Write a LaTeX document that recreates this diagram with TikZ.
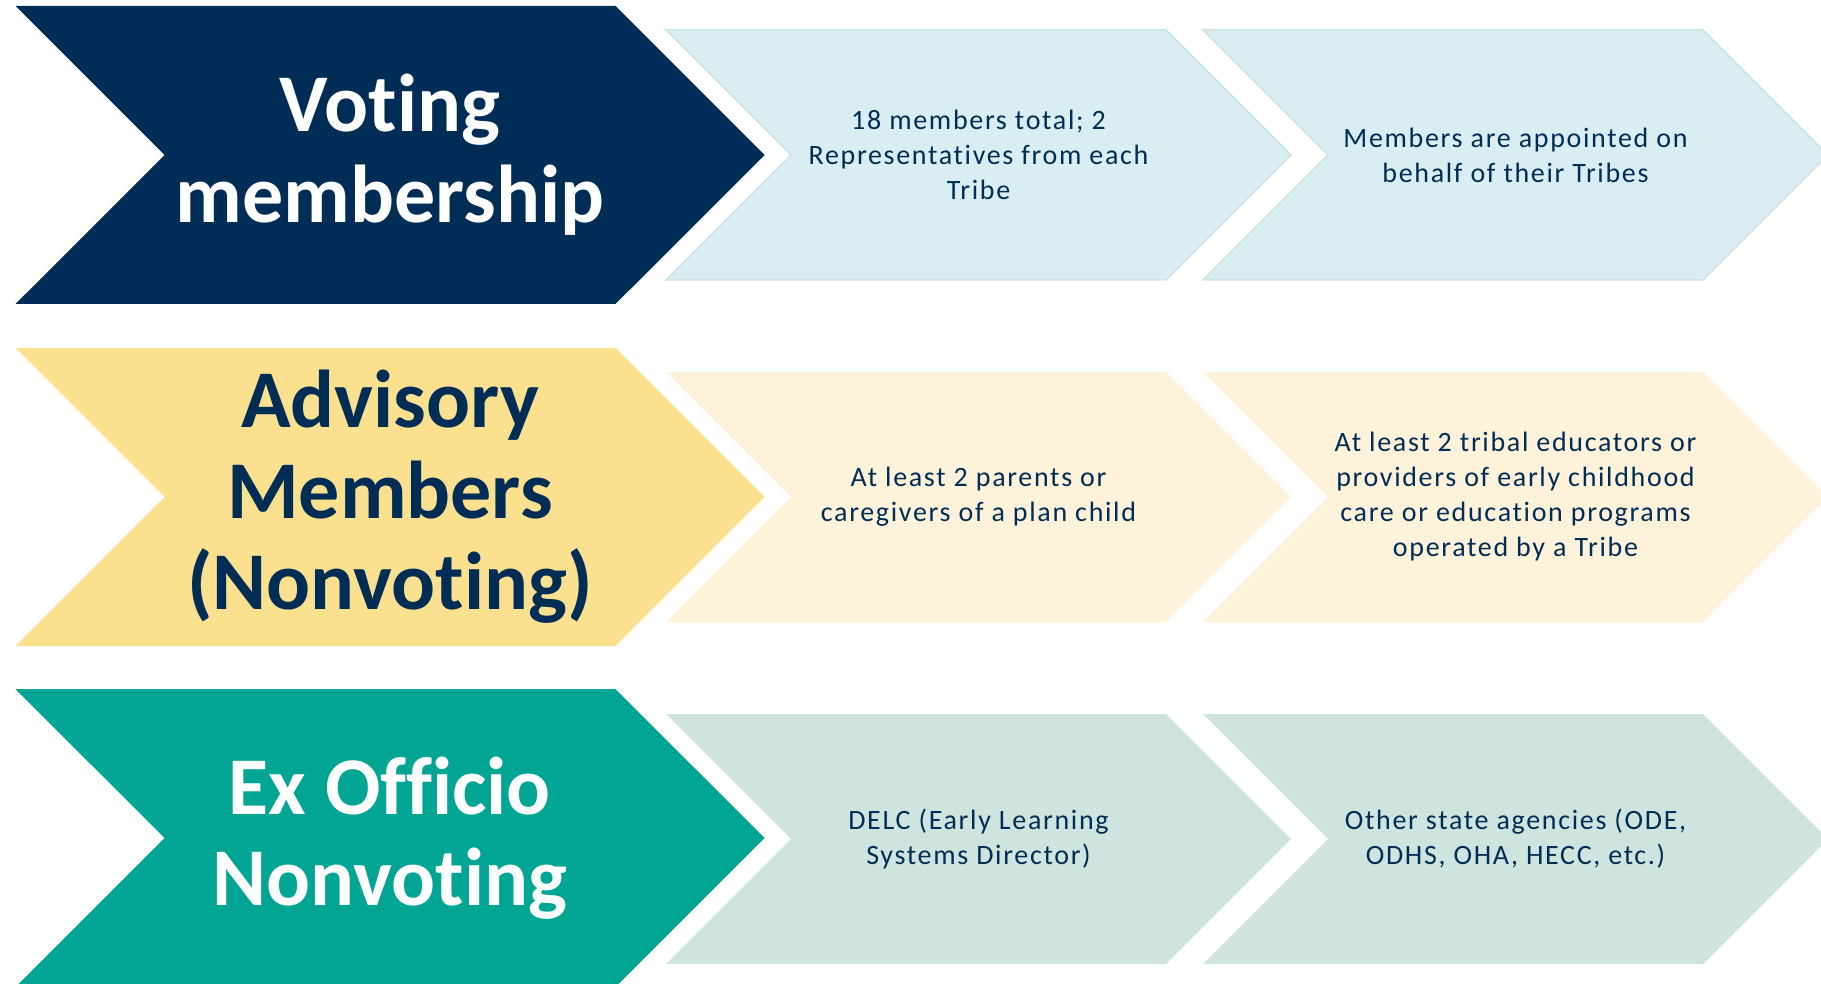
\documentclass[tikz,border=0pt]{standalone}
\usepackage{fontspec}
\setmainfont{Carlito}[Ligatures=NoCommon]
\newfontfamily\spacedfont{Carlito}[Ligatures=NoCommon, LetterSpace=6]
\usetikzlibrary{positioning, shapes.symbols}
\definecolor{navy}{RGB}{0,45,86}
\definecolor{sand}{RGB}{250,224,143}
\definecolor{teal}{RGB}{0,166,147}
\definecolor{paleblue}{RGB}{218,237,243}
\definecolor{edgeblue}{RGB}{205,228,226}
\definecolor{palesand}{RGB}{254,242,219}
\definecolor{paleteal}{RGB}{208,228,223}
\tikzset{
	x=1pt, y=-1pt,
	every text node part/.style= {
		align=center
	},
	chevron/.style= {
		signal,
		signal from=west,
		signal to=east,
		inner sep=0pt
	},
	head/.style= {
		chevron,
		minimum width=749pt,
		minimum height=298pt,
		font=\bfseries\fontsize{82}{91}\selectfont
	},
	detail/.style= {
		chevron,
		minimum width=625pt,
		minimum height=250pt,
		text=navy,
		font=\spacedfont\fontsize{28}{35}\selectfont
	}
}

\begin{document}
\begin{tikzpicture}

	\useasboundingbox (0,0) rectangle (1821,984);

	% voting row
	\node (voting)[head, fill=navy, text=white] at (390,155) {Voting\\membership};
	\node (voting1)[detail, fill=paleblue, draw=edgeblue, line width=1.5pt] at (978.5,155)
		{18 members total; 2\\Representatives from each\\Tribe};
	\node (voting2)[detail, fill=paleblue, draw=edgeblue, line width=1.5pt] at (1515.5,155)
		{Members are appointed on\\behalf of their Tribes};

	% advisory row
	\node (advisory)[head, fill=sand, text=navy] at (390,497) {Advisory\\Members\\(Nonvoting)};
	\node (advisory1)[detail, fill=palesand] at (978.5,497)
		{At least 2 parents or\\caregivers of a plan child};
	\node (advisory2)[detail, fill=palesand] at (1515.5,497)
		{At least 2 tribal educators or\\providers of early childhood\\care or education programs\\operated by a Tribe};

	% ex officio row
	\node (exofficio)[head, fill=teal, text=white] at (390,838) {Ex Officio\\Nonvoting};
	\node (exofficio1)[detail, fill=paleteal] at (978.5,839)
		{DELC (Early Learning\\Systems Director)};
	\node (exofficio2)[detail, fill=paleteal] at (1515.5,839)
		{Other state agencies (ODE,\\ODHS, OHA, HECC, etc.)};

\end{tikzpicture}
\end{document}
